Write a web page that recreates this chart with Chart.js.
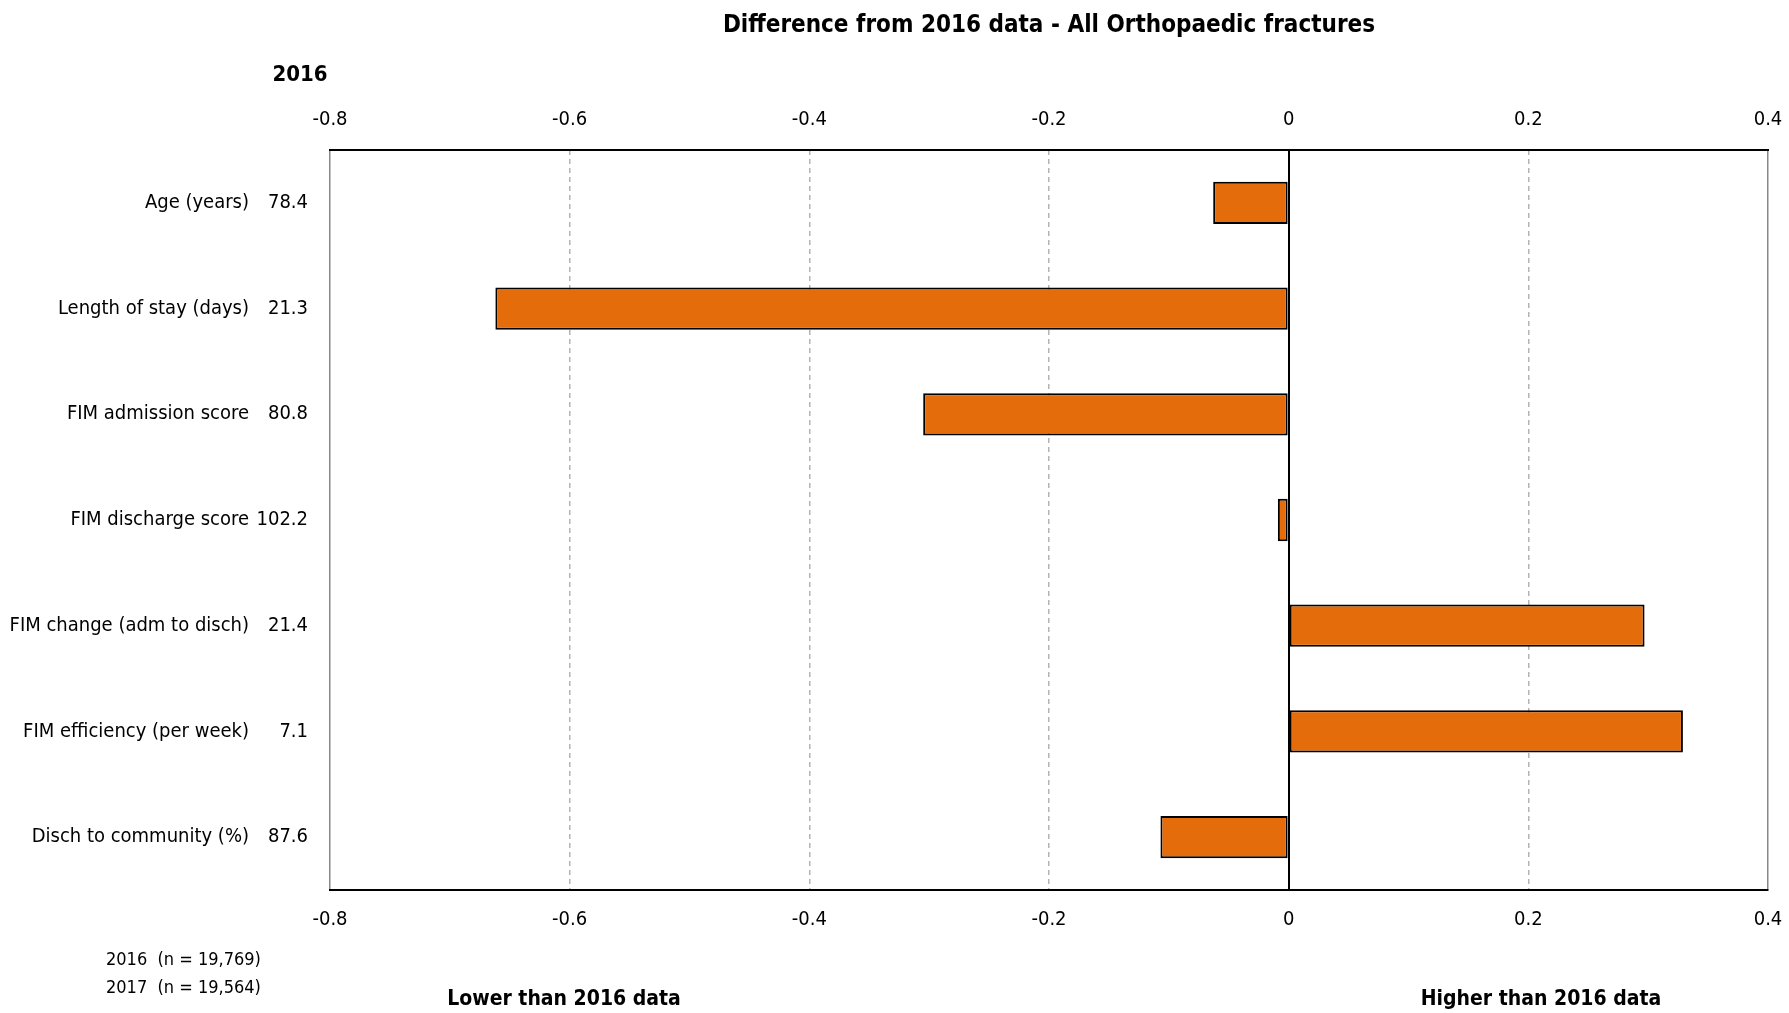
<!DOCTYPE html>
<html>
<head>
<meta charset="utf-8">
<script src="https://cdn.jsdelivr.net/npm/chart.js@4"></script>
<style>
  html, body { margin: 0; padding: 0; background: #fff; }
  #wrap { width: 1789px; height: 1013px; }
</style>
</head>
<body>
<div id="wrap"><canvas id="chart" width="1789" height="1013"></canvas></div>
<script>
// 数据
const categories = [
    'Age (years)',
    'Length of stay (days)',
    'FIM admission score',
    'FIM discharge score',
    'FIM change (adm to disch)',
    'FIM efficiency (per week)',
    'Disch to community (%)'
];
const values2016 = ['78.4', '21.3', '80.8', '102.2', '21.4', '7.1', '87.6'];
const differences = [-0.063, -0.662, -0.305, -0.009, 0.297, 0.329, -0.107];
const xTicks = [-0.8, -0.6, -0.4, -0.2, 0, 0.2, 0.4];

const FONT = "'Liberation Sans Narrow', 'Arial Narrow', 'DejaVu Sans Condensed', sans-serif";

// 额外文字：2016 数值列、年份、样本量、左右说明
const extraText = {
    id: 'extraText',
    afterDraw(chart) {
        const ctx = chart.ctx;
        const yScale = chart.scales.y;
        ctx.save();
        ctx.fillStyle = '#000';
        ctx.textBaseline = 'middle';

        ctx.font = `20px ${FONT}`;
        ctx.textAlign = 'right';
        values2016.forEach((v, i) => ctx.fillText(v, 308, yScale.getPixelForValue(i)));

        ctx.font = `bold 22px ${FONT}`;
        ctx.textAlign = 'center';
        ctx.fillText('2016', 300, 75);

        ctx.font = `18px ${FONT}`;
        ctx.textAlign = 'left';
        ctx.fillText('2016  (n = 19,769)', 106, 960);
        ctx.fillText('2017  (n = 19,564)', 106, 988);

        ctx.font = `bold 21px ${FONT}`;
        ctx.textAlign = 'center';
        ctx.fillText('Lower than 2016 data', 564, 1000);
        ctx.fillText('Higher than 2016 data', 1541, 1000);
        ctx.restore();
    }
};

const tickFont = { family: FONT, size: 20 };

// 去掉横轴两端标签带来的额外留白
const noSidePad = s => { s.paddingLeft = 0; s.paddingRight = 0; };

new Chart(document.getElementById('chart'), {
    type: 'bar',
    data: {
        labels: categories,
        datasets: [{
            data: differences,
            backgroundColor: '#E46C0A',
            borderColor: '#000',
            borderWidth: 2,
            borderSkipped: false,
            categoryPercentage: 1,
            barPercentage: 0.4
        }]
    },
    options: {
        indexAxis: 'y',
        responsive: false,
        animation: false,
        layout: { padding: { left: 0, right: 21, top: 0, bottom: 0 } },
        plugins: {
            legend: { display: false },
            tooltip: { enabled: false },
            title: {
                display: true,
                fullSize: false,
                text: 'Difference from 2016 data - All Orthopaedic fractures',
                color: '#000',
                font: { family: FONT, size: 24, weight: 'bold' },
                padding: { top: 11, bottom: 0 }
            }
        },
        scales: {
            x: {
                type: 'linear',
                position: 'bottom',
                min: -0.8,
                max: 0.4,
                afterBuildTicks: s => { s.ticks = xTicks.map(v => ({ value: v })); },
                afterFit: s => { s.height = 123; noSidePad(s); },
                ticks: {
                    color: '#000',
                    font: tickFont,
                    padding: 18,
                    maxRotation: 0,
                    callback: v => String(Math.round(v * 10) / 10)
                },
                grid: {
                    drawTicks: false,
                    color: c => {
                        const v = c.tick ? c.tick.value : null;
                        if (v === 0) return '#000';
                        if (v === -0.8 || v === 0.4) return '#888';
                        return '#b4b4b4';
                    },
                    lineWidth: c => (c.tick && c.tick.value === 0 ? 2 : 1.5)
                },
                border: {
                    display: true,
                    color: '#000',
                    width: 2,
                    dash: c => {
                        const v = c.tick ? c.tick.value : null;
                        return (v === 0 || v === -0.8 || v === 0.4) ? [] : [5, 4];
                    }
                }
            },
            x2: {
                type: 'linear',
                position: 'top',
                min: -0.8,
                max: 0.4,
                afterBuildTicks: s => { s.ticks = xTicks.map(v => ({ value: v })); },
                afterFit: s => { s.height = 150 - 11 - 24 * 1.2; noSidePad(s); },
                ticks: {
                    color: '#000',
                    font: tickFont,
                    padding: 18,
                    maxRotation: 0,
                    callback: v => String(Math.round(v * 10) / 10)
                },
                grid: { display: false, drawTicks: false },
                border: { display: true, color: '#000', width: 2 }
            },
            y: {
                type: 'category',
                position: 'left',
                afterFit: s => { s.width = 330; },
                ticks: { color: '#000', font: tickFont, padding: 81 },
                grid: { display: false, drawTicks: false },
                border: { display: false }
            }
        }
    },
    plugins: [extraText]
});
</script>
</body>
</html>
